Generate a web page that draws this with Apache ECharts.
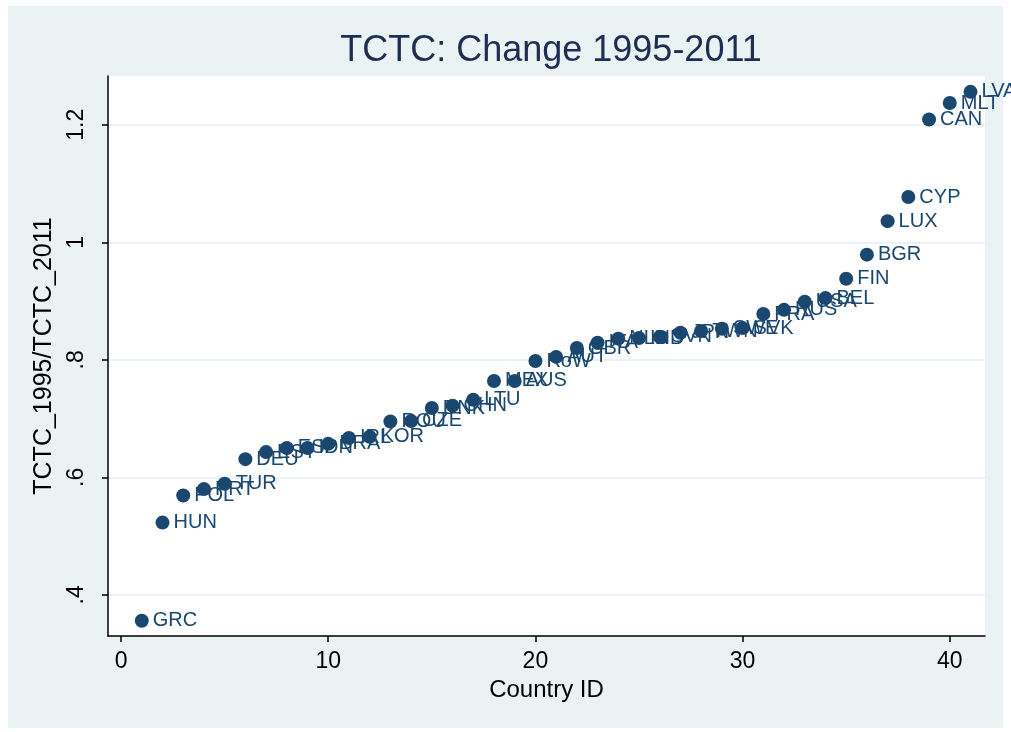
<!DOCTYPE html>
<html>
<head>
<meta charset="utf-8">
<script src="https://cdn.jsdelivr.net/npm/echarts@6/dist/echarts.min.js"></script>
<style>
html,body{margin:0;padding:0;background:#fff;}
#chart{width:1011px;height:732px;}
</style>
</head>
<body>
<div id="chart"></div>
<script>
// Data
const countryIds = [1,2,3,4,5,6,7,8,9,10,11,12,13,14,15,16,17,18,19,20,21,22,23,24,25,26,27,28,29,30,31,32,33,34,35,36,37,38,39,40,41];
const countryCodes = ["GRC","HUN","POL","PRT","TUR","DEU","EST","ESP","IDN","BRA","IRL","KOR","ROU","CZE","DNK","CHN","LTU","MEX","AUS","RoW","AUT","GBR","ITA","NLD","IND","SVN","JPN","TWN","SWE","SVK","FRA","RUS","USA","BEL","FIN","BGR","LUX","CYP","CAN","MLT","LVA"];
const tctcRatio = [0.356,0.523,0.569,0.580,0.589,0.631,0.643,0.650,0.650,0.657,0.667,0.669,0.695,0.696,0.718,0.722,0.732,0.764,0.764,0.798,0.805,0.820,0.829,0.836,0.837,0.839,0.846,0.849,0.853,0.854,0.878,0.885,0.899,0.905,0.938,0.979,1.036,1.077,1.209,1.237,1.256];
const xTicks = [0,10,20,30,40];
const yTicks = [0.4,0.6,0.8,1.0,1.2];

const navy = '#1a476f';
const font = '"Liberation Sans", Arial, sans-serif';

const points = countryIds.map((id, i) => ({value: [id, tctcRatio[i]], name: countryCodes[i]}));

const chart = echarts.init(document.getElementById('chart'), null, {renderer: 'canvas'});
chart.setOption({
  backgroundColor: '#ffffff',
  animation: false,
  graphic: [{
    type: 'rect', z: -10, silent: true,
    shape: {x: 8, y: 6, width: 995, height: 722},
    style: {fill: '#eaf2f3'}
  }],
  title: {
    text: 'TCTC: Change 1995-2011',
    left: 546, top: 28, textAlign: 'center',
    textStyle: {fontFamily: font, fontSize: 36, fontWeight: 'normal', color: '#1e2d53'}
  },
  grid: {left: 108, top: 76, right: 26, bottom: 96, show: true, backgroundColor: '#ffffff', borderWidth: 0},
  xAxis: {
    type: 'value', min: -0.63, max: 41.7,
    name: 'Country ID', nameLocation: 'middle', nameGap: 42,
    nameTextStyle: {fontFamily: font, fontSize: 24, color: '#000'},
    axisLine: {show: true, onZero: false, lineStyle: {color: '#000', width: 1.5}},
    axisTick: {show: true, length: 6, customValues: xTicks, lineStyle: {color: '#000', width: 1.5}},
    axisLabel: {customValues: xTicks, margin: 14, fontFamily: font, fontSize: 23, color: '#000'},
    splitLine: {show: false}
  },
  yAxis: {
    type: 'value', min: 0.330, max: 1.283,
    name: 'TCTC_1995/TCTC_2011', nameLocation: 'middle', nameGap: 45, nameRotate: 90,
    nameTextStyle: {fontFamily: font, fontSize: 25, color: '#000'},
    axisLine: {show: true, onZero: false, lineStyle: {color: '#000', width: 1.5}},
    axisTick: {show: true, length: 6, customValues: yTicks, lineStyle: {color: '#000', width: 1.5}},
    axisLabel: {
      customValues: yTicks, rotate: 90, margin: 20, fontFamily: font, fontSize: 23, color: '#000',
      formatter: v => { const s = String(Math.round(v * 10) / 10); return s.startsWith('0.') ? s.slice(1) : s; }
    },
    splitLine: {show: true, lineStyle: {color: '#eaf2f3', width: 2}}
  },
  series: [{
    type: 'scatter',
    data: points,
    symbol: 'circle', symbolSize: 14,
    itemStyle: {color: navy, opacity: 1},
    label: {
      show: true, position: 'right', distance: 4, offset: [0, 1],
      formatter: p => p.name,
      fontFamily: font, fontSize: 20, color: navy
    },
    labelLayout: {hideOverlap: false}
  }]
});
</script>
</body>
</html>
